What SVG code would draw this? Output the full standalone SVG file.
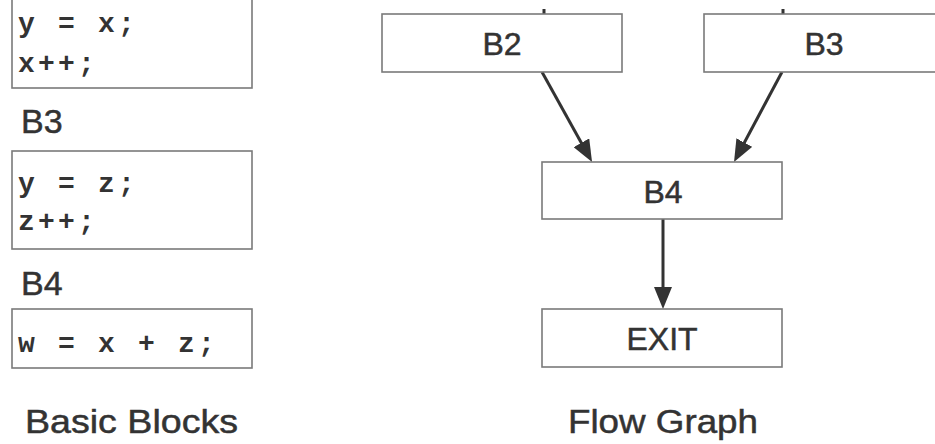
<svg xmlns="http://www.w3.org/2000/svg" width="935" height="444" viewBox="0 0 935 444">
  <defs>
    <style>
      .box { fill: #ffffff; stroke: #7a7a7a; stroke-width: 1.6; }
      .lbl { font-family: "Liberation Sans", Arial, sans-serif; fill: #333333; stroke: #333333; stroke-width: 0.5; }
      .node { font-size: 32px; text-anchor: middle; }
      .blk { font-size: 34px; }
      .title { font-size: 34px; }
      .code { font-family: "Liberation Mono", "Courier New", monospace; font-weight: bold; font-size: 28px; letter-spacing: 3.2px; fill: #333333; white-space: pre; }
      .edge { stroke: #333333; stroke-width: 3; fill: none; }
    </style>
    <marker id="arrow" markerUnits="userSpaceOnUse" markerWidth="22" markerHeight="18" refX="11" refY="9" orient="auto" viewBox="0 0 22 18">
      <path d="M0,0 L22,9 L0,18 z" fill="#333333"/>
    </marker>
  </defs>
  <rect width="935" height="444" fill="#ffffff"/>

  <!-- Basic blocks (left) -->
  <g id="block-B2">
    <rect class="box" x="12" y="-10" width="240" height="98"/>
    <text class="code" x="18" y="32" xml:space="preserve">y = x;</text>
    <text class="code" x="18" y="72">x++;</text>
  </g>
  <g id="block-B3">
    <text class="lbl blk" x="21" y="133">B3</text>
    <rect class="box" x="12" y="151" width="240" height="98"/>
    <text class="code" x="18" y="192" xml:space="preserve">y = z;</text>
    <text class="code" x="18" y="230">z++;</text>
  </g>
  <g id="block-B4">
    <text class="lbl blk" x="21" y="295">B4</text>
    <rect class="box" x="12" y="309" width="240" height="59"/>
    <text class="code" x="18" y="352" xml:space="preserve">w = x + z;</text>
  </g>
  <g id="caption-basic">
    <text class="lbl title" x="25" y="433" textLength="213" lengthAdjust="spacingAndGlyphs">Basic Blocks</text>
  </g>

  <!-- Flow graph (right) -->
  <g id="edges">
    <line class="edge" x1="544" y1="9" x2="544" y2="14"/>
    <line class="edge" x1="783" y1="9" x2="783" y2="14"/>
    <line class="edge" x1="542" y1="72" x2="586.7" y2="152.4" marker-end="url(#arrow)"/>
    <line class="edge" x1="782" y1="72" x2="739.2" y2="152.3" marker-end="url(#arrow)"/>
    <line class="edge" x1="663" y1="219" x2="663" y2="298" marker-end="url(#arrow)"/>
  </g>
  <g id="node-B2">
    <rect class="box" x="382" y="14" width="240" height="58"/>
    <text class="lbl node" x="502" y="55">B2</text>
  </g>
  <g id="node-B3">
    <rect class="box" x="704" y="14" width="240" height="58"/>
    <text class="lbl node" x="824" y="55">B3</text>
  </g>
  <g id="node-B4">
    <rect class="box" x="542" y="162" width="240" height="57"/>
    <text class="lbl node" x="663" y="203">B4</text>
  </g>
  <g id="node-EXIT">
    <rect class="box" x="542" y="309" width="240" height="58"/>
    <text class="lbl node" x="662" y="350">EXIT</text>
  </g>
  <g id="caption-flow">
    <text class="lbl title" x="663" y="433" text-anchor="middle" textLength="190" lengthAdjust="spacingAndGlyphs">Flow Graph</text>
  </g>
</svg>
